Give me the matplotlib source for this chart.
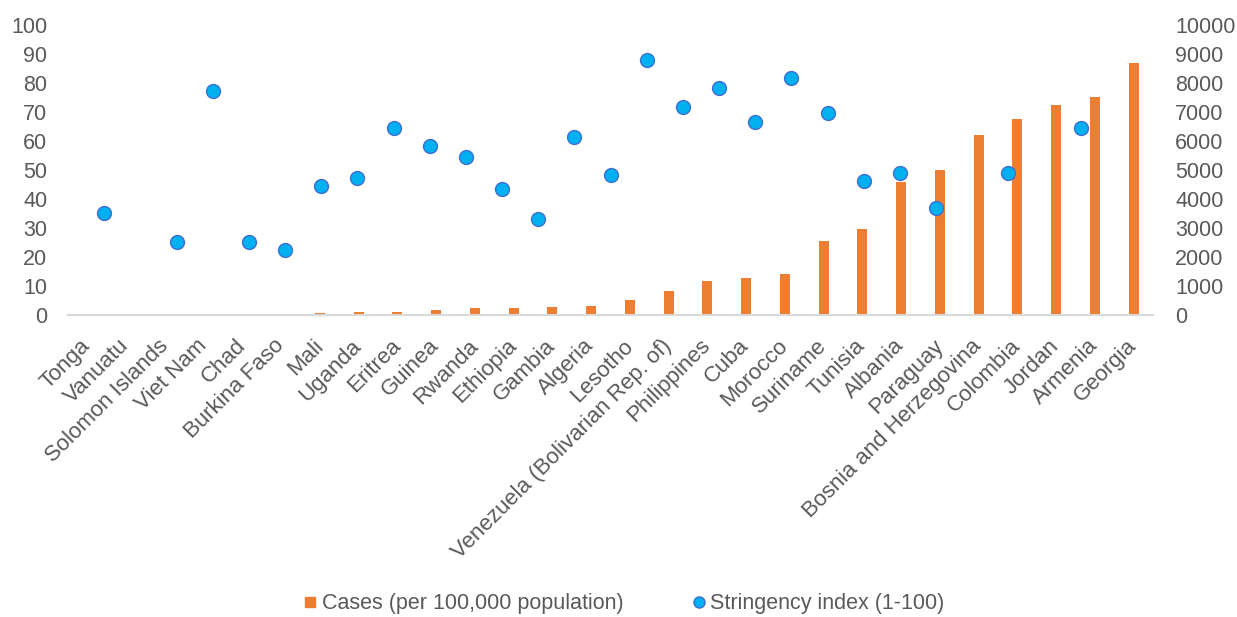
import matplotlib.pyplot as plt
from matplotlib.lines import Line2D
import numpy as np

plt.rcParams["font.family"] = ["Liberation Sans", "DejaVu Sans"]

countries = [
    "Tonga", "Vanuatu", "Solomon Islands", "Viet Nam", "Chad", "Burkina Faso",
    "Mali", "Uganda", "Eritrea", "Guinea", "Rwanda", "Ethiopia", "Gambia",
    "Algeria", "Lesotho", "Venezuela (Bolivarian Rep. of)", "Philippines",
    "Cuba", "Morocco", "Suriname", "Tunisia", "Albania", "Paraguay",
    "Bosnia and Herzegovina", "Colombia", "Jordan", "Armenia", "Georgia",
]
# cases per 100,000 population (right axis)
cases = [0, 0, 2, 4, 8, 50, 55, 100, 100, 180, 230, 230, 275, 320, 515,
         840, 1160, 1275, 1400, 2560, 2955, 4600, 5010, 6220, 6750, 7230,
         7505, 8680]
# stringency index (left axis), nan where there is no value
stringency = [35.2, np.nan, 25.2, 77.2, 25.2, 22.4, 44.5, 47.2, 64.5, 58.3,
              54.5, 43.4, 33.1, 61.4, 48.3, 87.9, 71.7, 78.3, 66.6, 81.7,
              69.7, 46.2, 49.0, 36.9, np.nan, 49.0, np.nan, 64.5]

ORANGE = "#ED7D31"
BLUE = "#00B0F0"
EDGE = "#3F6FD1"
GREY_TXT = "#595959"
FS = 15.5

W, H = 1237, 617
fig = plt.figure(figsize=(W / 100, H / 100), dpi=100)
rect = [68 / W, (H - 315) / H, (1153 - 68) / W, 290 / H]

# bars: cases on the right-hand scale
ax = fig.add_axes(rect)
x = np.arange(len(countries))
ax.bar(x, cases, width=0.26, color=ORANGE, zorder=2)
ax.set_xlim(-0.5, len(countries) - 0.5)
ax.set_ylim(0, 10000)
ax.set_yticks(np.arange(0, 10001, 1000))
ax.yaxis.tick_right()
ax.tick_params(axis="y", length=0, pad=16, labelsize=FS, labelcolor=GREY_TXT)
ax.set_xticks(x)
ax.set_xticklabels(countries, rotation=45, ha="right", va="center",
                   rotation_mode="anchor")
ax.tick_params(axis="x", length=0, pad=20, labelsize=16, labelcolor=GREY_TXT)
for side in ["top", "right", "left"]:
    ax.spines[side].set_visible(False)
ax.spines["bottom"].set_color("#D9D9D9")
ax.spines["bottom"].set_linewidth(1.5)

# dots: stringency index on the left-hand scale, own x scale
ax2 = fig.add_axes(rect, frameon=False)
pos = np.arange(1, len(stringency) + 1)
ax2.scatter(pos, stringency, s=100, color=BLUE, edgecolors=EDGE,
            linewidths=1.0, zorder=3)
ax2.set_xlim(0, 30)
ax2.set_ylim(0, 100)
ax2.set_yticks(np.arange(0, 101, 10))
ax2.set_xticks([])
ax2.tick_params(axis="y", length=0, pad=15, labelsize=FS, labelcolor=GREY_TXT)

handles = [
    Line2D([], [], marker="s", linestyle="none", markersize=7.5,
           markerfacecolor=ORANGE, markeredgecolor=ORANGE,
           label="Cases (per 100,000 population)"),
    Line2D([], [], marker="o", linestyle="none", markersize=8,
           markerfacecolor=BLUE, markeredgecolor=EDGE,
           label="Stringency index (1-100)"),
]
fig.legend(handles=handles, loc="center", bbox_to_anchor=(624 / W, 1 - 604 / H),
           ncol=2, frameon=False, fontsize=FS, labelcolor=GREY_TXT,
           handlelength=0.6, handletextpad=0.25, columnspacing=3.2)

fig.savefig("out.png", dpi=100)
